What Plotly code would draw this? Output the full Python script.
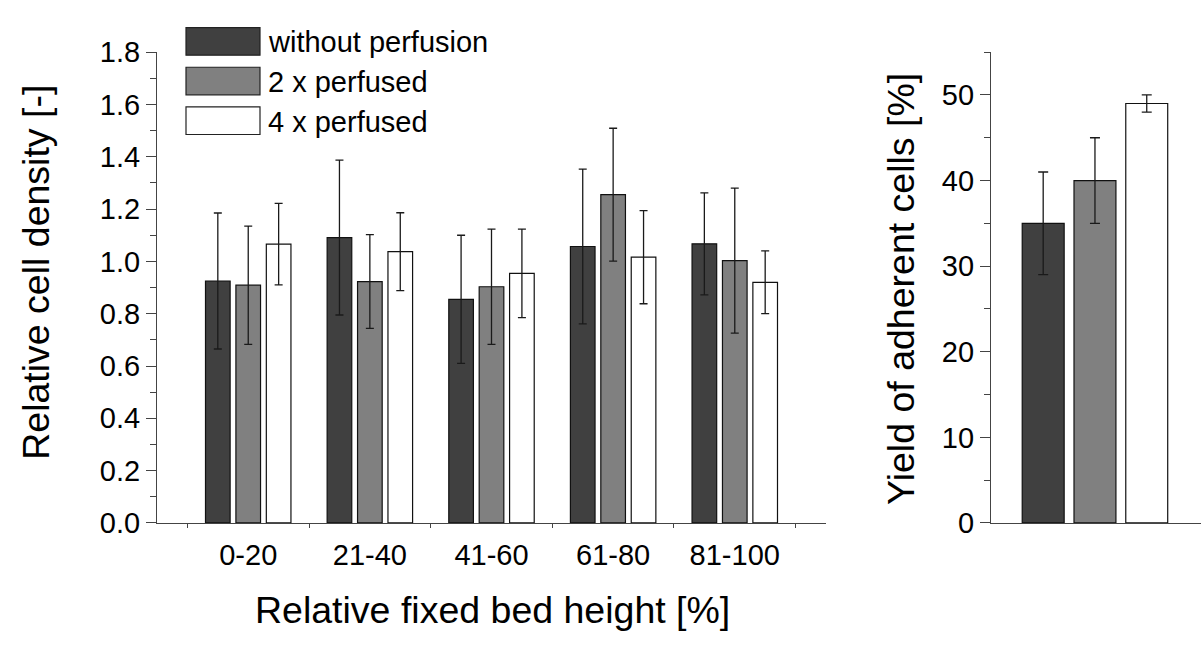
import plotly.graph_objects as go

# ---------------- data ----------------
categories = ["0-20", "21-40", "41-60", "61-80", "81-100"]
series_names = ["without perfusion", "2 x perfused", "4 x perfused"]
colors = ["#404040", "#808080", "#ffffff"]

density_without = [0.925, 1.091, 0.855, 1.057, 1.067]
density_without_err = [0.26, 0.296, 0.245, 0.296, 0.195]
density_2x = [0.909, 0.923, 0.903, 1.255, 1.003]
density_2x_err = [0.226, 0.179, 0.22, 0.254, 0.277]
density_4x = [1.066, 1.037, 0.954, 1.016, 0.92]
density_4x_err = [0.156, 0.149, 0.169, 0.178, 0.12]

yield_category = ["yield"]
yield_without = [35]
yield_without_err = [6]
yield_2x = [40]
yield_2x_err = [5]
yield_4x = [49]
yield_4x_err = [1]

left_ticks = [0.0, 0.2, 0.4, 0.6, 0.8, 1.0, 1.2, 1.4, 1.6, 1.8]
right_ticks = [0, 10, 20, 30, 40, 50]

# ---------------- layout helpers ----------------
W, H = 1201, 655
def fx(p):
    return p / W
def fy(p):
    return 1 - p / H

TICK_FONT = dict(family="Liberation Sans, Arial, sans-serif", size=29, color="black")
TITLE_FONT = dict(family="Liberation Sans, Arial, sans-serif", size=37.5, color="black")
LEG_FONT = dict(family="Liberation Sans, Arial, sans-serif", size=29, color="black")
AXIS_COL = "#444444"
ERR_COL = "#1a1a1a"

fig = go.Figure()

left_vals = [density_without, density_2x, density_4x]
left_errs = [density_without_err, density_2x_err, density_4x_err]
for name, col, vals, errs in zip(series_names, colors, left_vals, left_errs):
    fig.add_trace(go.Bar(
        x=categories, y=vals, name=name, xaxis="x", yaxis="y",
        marker=dict(color=col, line=dict(color="#111111", width=1.2)),
        error_y=dict(type="data", array=errs, visible=True, color=ERR_COL,
                     thickness=1.3, width=4),
        showlegend=False,
    ))

right_vals = [yield_without, yield_2x, yield_4x]
right_errs = [yield_without_err, yield_2x_err, yield_4x_err]
for name, col, vals, errs in zip(series_names, colors, right_vals, right_errs):
    fig.add_trace(go.Bar(
        x=yield_category, y=vals, name=name, xaxis="x2", yaxis="y2",
        marker=dict(color=col, line=dict(color="#111111", width=1.2)),
        error_y=dict(type="data", array=errs, visible=True, color=ERR_COL,
                     thickness=1.3, width=5),
        showlegend=False,
    ))

y_dom = [fy(533), fy(38)]

fig.update_layout(
    width=W, height=H,
    margin=dict(l=0, r=0, t=0, b=0),
    paper_bgcolor="white", plot_bgcolor="white",
    barmode="group", bargap=0.25, bargroupgap=0.19,
    showlegend=False,
    xaxis=dict(
        domain=[fx(157), fx(826)], range=[-0.75, 4.75], anchor="y",
        showline=True, linecolor=AXIS_COL, linewidth=1.2,
        ticks="outside", tickson="boundaries", ticklen=4, tickcolor=AXIS_COL,
        ticklabelstandoff=6,
        showgrid=False, zeroline=False, tickfont=TICK_FONT,
    ),
    yaxis=dict(
        domain=y_dom, range=[0, 1.8], anchor="x",
        tickvals=left_ticks, tickformat=".1f",
        showline=True, linecolor=AXIS_COL, linewidth=1.2,
        ticks="outside", ticklen=10, tickcolor=AXIS_COL, tickwidth=1,
        minor=dict(dtick=0.1, ticks="outside", ticklen=6, tickcolor=AXIS_COL, showgrid=False),
        showgrid=False, zeroline=False, tickfont=TICK_FONT,
    ),
    xaxis2=dict(
        domain=[fx(991), 1.0], range=[-0.502, 0.512], anchor="y2",
        showline=True, linecolor=AXIS_COL, linewidth=1.2,
        showticklabels=False, ticks="", showgrid=False, zeroline=False,
    ),
    yaxis2=dict(
        domain=y_dom, range=[0, 55], anchor="x2",
        tickvals=right_ticks,
        showline=True, linecolor=AXIS_COL, linewidth=1.2,
        ticks="outside", ticklen=10, tickcolor=AXIS_COL, tickwidth=1,
        minor=dict(dtick=5, ticks="outside", ticklen=6, tickcolor=AXIS_COL, showgrid=False),
        showgrid=False, zeroline=False, tickfont=TICK_FONT,
    ),
)

annotations = [
    dict(text="Relative fixed bed height [%]", x=fx(492), y=fy(624),
         xref="paper", yref="paper", xanchor="center", yanchor="middle",
         showarrow=False, font=TITLE_FONT),
    dict(text="Relative cell density [-]", x=fx(36), y=fy(270), textangle=-90,
         xref="paper", yref="paper", xanchor="center", yanchor="middle",
         showarrow=False, font=TITLE_FONT),
    dict(text="Yield of adherent cells [%]", x=fx(901), y=fy(287), textangle=-90,
         xref="paper", yref="paper", xanchor="center", yanchor="middle",
         showarrow=False, font=TITLE_FONT),
]

# custom legend with large swatches
LEG_X0, LEG_W, LEG_H = 186, 74, 29
LEG_Y0, LEG_PITCH = 26.7, 41.7
LEG_TEXT_X = 266
shapes = []
for i, (name, col) in enumerate(zip(series_names, colors)):
    cy = LEG_Y0 + i * LEG_PITCH
    shapes.append(dict(type="rect", xref="paper", yref="paper",
                       x0=fx(LEG_X0), x1=fx(LEG_X0 + LEG_W),
                       y0=fy(cy + LEG_H / 2), y1=fy(cy - LEG_H / 2),
                       fillcolor=col, line=dict(color="#222222", width=1.2)))
    annotations.append(dict(text=name, x=fx(LEG_TEXT_X), y=fy(cy + 1),
                            xref="paper", yref="paper", xanchor="left", yanchor="middle",
                            showarrow=False, font=LEG_FONT))

fig.update_layout(annotations=annotations, shapes=shapes)

fig.write_html("out.html")
